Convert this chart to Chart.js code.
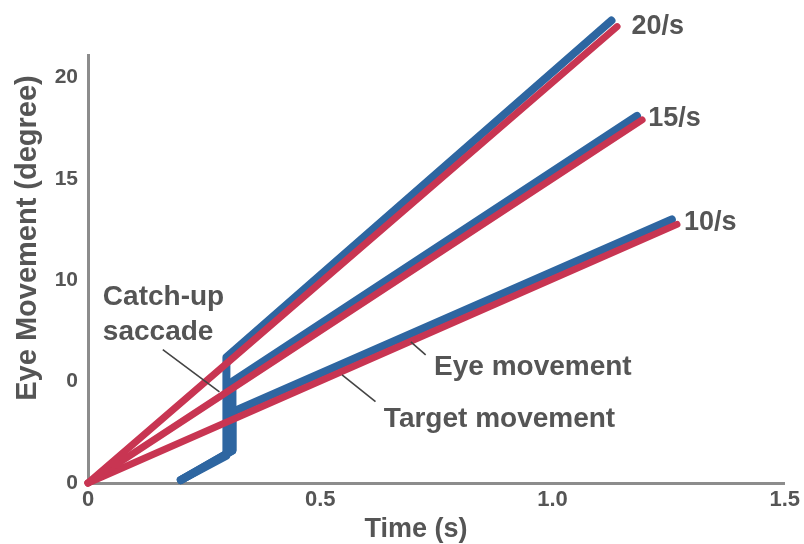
<!DOCTYPE html>
<html>
<head>
<meta charset="utf-8">
<script src="https://cdn.jsdelivr.net/npm/chart.js@4/dist/chart.umd.min.js"></script>
<style>
  body { margin: 0; background: #fff; }
  #wrap { width: 804px; height: 544px; }
</style>
</head>
<body>
<div id="wrap"><canvas id="pursuit-chart" width="804" height="544"></canvas></div>
<script>
// axis ticks as printed on the figure
const xTicks = [0, 0.5, 1.0, 1.5];
const xTickLabels = ['0', '0.5', '1.0', '1.5'];
const yTicks = [0, 5, 10, 15, 20];
const yTickLabels = ['0', '0', '10', '15', '20'];

// target movement (red), one ramp per speed
const target20 = [{ x: 0, y: 0 }, { x: 1.139, y: 22.5 }];
const target15 = [{ x: 0, y: 0 }, { x: 1.193, y: 17.9 }];
const target10 = [{ x: 0, y: 0 }, { x: 1.268, y: 12.75 }];

// eye movement (blue): latency, slow drift, catch-up saccade, pursuit
const eye20 = [{ x: 0.2, y: 0.15 }, { x: 0.298, y: 1.35 }, { x: 0.298, y: 6.2 }, { x: 1.127, y: 22.8 }];
const eye15 = [{ x: 0.2, y: 0.15 }, { x: 0.311, y: 1.6 }, { x: 0.311, y: 5.0 }, { x: 1.182, y: 18.1 }];
const eye10 = [{ x: 0.2, y: 0.15 }, { x: 0.311, y: 1.6 }, { x: 0.311, y: 3.5 }, { x: 1.257, y: 13.0 }];

const speedLabels = ['20/s', '15/s', '10/s'];
const noteLabels = ['Catch-up', 'saccade', 'Eye movement', 'Target movement'];

const RED = '#c83552';
const BLUE = '#2e66a1';
const TEXT = '#555555';
const AXIS = '#8c8c8c';
const FONT = "'Liberation Sans', Arial, sans-serif";

function line(data, color, width) {
  return {
    data: data,
    showLine: true,
    borderColor: color,
    borderWidth: width,
    borderCapStyle: 'round',
    borderJoinStyle: 'round',
    pointRadius: 0,
    fill: false,
    clip: false
  };
}

// text and leader lines, anchored in data units
const notesPlugin = {
  id: 'notes',
  afterDatasetsDraw(chart) {
    const { ctx, scales: { x, y } } = chart;
    const px = v => x.getPixelForValue(v);
    const py = v => y.getPixelForValue(v);

    ctx.save();
    ctx.strokeStyle = '#444';
    ctx.lineWidth = 1.6;
    const leaders = [
      [0.161, 6.57, 0.283, 4.49],
      [0.695, 6.96, 0.727, 6.32],
      [0.547, 5.33, 0.619, 4.01]
    ];
    leaders.forEach(l => {
      ctx.beginPath();
      ctx.moveTo(px(l[0]), py(l[1]));
      ctx.lineTo(px(l[2]), py(l[3]));
      ctx.stroke();
    });

    ctx.fillStyle = TEXT;
    ctx.textBaseline = 'alphabetic';
    ctx.textAlign = 'left';
    ctx.font = 'bold 27px ' + FONT;
    const speedPos = [[1.170, 22.12], [1.206, 17.58], [1.283, 12.49]];
    speedLabels.forEach((s, i) => ctx.fillText(s, px(speedPos[i][0]), py(speedPos[i][1])));
    ctx.font = 'bold 28px ' + FONT;
    const notePos = [[0.032, 8.79], [0.032, 7.06], [0.745, 5.33], [0.637, 2.76]];
    noteLabels.forEach((s, i) => ctx.fillText(s, px(notePos[i][0]), py(notePos[i][1])));

    // axis titles
    ctx.font = 'bold 27px ' + FONT;
    ctx.textAlign = 'center';
    ctx.fillText('Time (s)', 416, 537);
    ctx.translate(36, 238);
    ctx.rotate(-Math.PI / 2);
    ctx.font = 'bold 29px ' + FONT;
    ctx.fillText('Eye Movement (degree)', 0, 0);
    ctx.restore();
  }
};

new Chart(document.getElementById('pursuit-chart').getContext('2d'), {
  type: 'scatter',
  data: {
    datasets: [
      line(target20, RED, 7),
      line(target15, RED, 7),
      line(target10, RED, 7),
      line(eye20, BLUE, 8),
      line(eye15, BLUE, 8),
      line(eye10, BLUE, 8)
    ]
  },
  options: {
    responsive: false,
    animation: false,
    layout: { padding: { left: 0, right: 17, top: 55, bottom: 0 } },
    plugins: { legend: { display: false }, tooltip: { enabled: false } },
    scales: {
      x: {
        type: 'linear',
        min: 0,
        max: 1.5,
        afterBuildTicks: s => { s.ticks = xTicks.map(v => ({ value: v })); },
        afterFit: s => { s.height = 61; },
        grid: { display: false, drawTicks: false },
        border: { display: true, color: AXIS, width: 3 },
        ticks: {
          padding: 4,
          color: TEXT,
          font: { family: FONT, size: 22, weight: 'bold' },
          maxRotation: 0,
          callback: (v, i) => xTickLabels[i]
        }
      },
      y: {
        type: 'linear',
        min: 0,
        max: 21.1,
        afterBuildTicks: s => { s.ticks = yTicks.map(v => ({ value: v })); },
        afterFit: s => { s.width = 88; },
        grid: { display: false, drawTicks: false },
        border: { display: true, color: AXIS, width: 3 },
        ticks: {
          padding: 10,
          color: TEXT,
          font: { family: FONT, size: 21, weight: 'bold' },
          callback: (v, i) => yTickLabels[i]
        }
      }
    }
  },
  plugins: [notesPlugin]
});
</script>
</body>
</html>
